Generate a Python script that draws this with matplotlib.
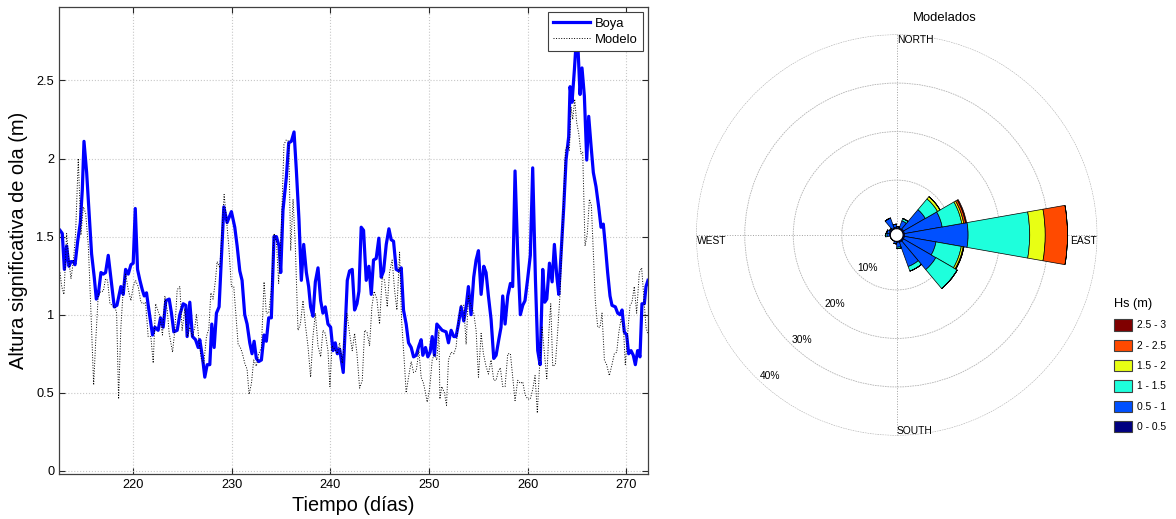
import numpy as np
import matplotlib
matplotlib.use("Agg")
import matplotlib.pyplot as plt
from matplotlib.patches import Patch

plt.rcParams['font.family'] = ['Liberation Sans', 'DejaVu Sans']

# Boya (buoy) series, day of year vs Hs (m)
BOYA_T = [212.58, 212.81, 213.02, 213.25, 213.49, 213.69, 213.93, 214.10, 214.37, 214.64,
          214.84, 215.01, 215.28, 215.51, 215.78, 216.05, 216.26, 216.46, 216.73, 216.97,
          217.20, 217.47, 217.67, 217.88, 218.08, 218.35, 218.55, 218.75, 218.99, 219.23,
          219.50, 219.77, 220.00, 220.21, 220.44, 220.68, 220.92, 221.12, 221.35, 221.59,
          221.96, 222.20, 222.53, 222.77, 223.04, 223.31, 223.65, 223.88, 224.12, 224.46,
          224.73, 225.07, 225.34, 225.47, 225.74, 226.01, 226.32, 226.59, 226.75, 227.02,
          227.26, 227.50, 227.77, 227.97, 228.21, 228.44, 228.71, 228.95, 229.19, 229.52,
          229.96, 230.30, 230.54, 230.81, 231.04, 231.31, 231.55, 231.82,
          232.05, 232.26, 232.49, 232.73, 233.00, 233.27, 233.50, 233.74, 234.01, 234.28,
          234.52, 234.79, 234.96, 235.19, 235.53, 235.77, 236.04, 236.31, 236.54, 236.81,
          237.05, 237.29, 237.56, 237.79, 237.99, 238.23, 238.47, 238.74, 239.01, 239.24,
          239.48, 239.75, 240.02, 240.26, 240.49, 240.70, 240.93, 241.30, 241.71,
          241.94, 242.21, 242.45, 242.69, 242.89, 243.12, 243.36, 243.63, 243.90, 244.14,
          244.37, 244.64, 244.91, 245.15, 245.39, 245.66, 245.93, 246.16, 246.40, 246.67,
          246.94, 247.18, 247.41, 247.68, 247.92, 248.19, 248.43, 248.70, 248.97, 249.20,
          249.37, 249.64, 249.88, 250.11, 250.32, 250.55, 250.79, 251.06, 251.33,
          251.73, 251.97, 252.24, 252.51, 252.74, 252.98, 253.25, 253.52, 253.76, 253.99,
          254.26, 254.53, 254.77, 255.01, 255.28, 255.55, 255.78, 256.02, 256.29, 256.56,
          256.80, 257.07, 257.30, 257.47, 257.71, 257.98, 258.25, 258.48, 258.72, 258.99,
          259.26, 259.50, 259.73, 260.00, 260.27, 260.51,
          260.79, 261.02, 261.26, 261.53, 261.73, 261.94, 262.21, 262.48, 262.71, 262.95,
          263.15, 263.39, 263.66, 263.89, 264.16, 264.30, 264.50, 264.74, 264.91, 265.11,
          265.31, 265.51, 265.75, 265.99, 266.19, 266.43, 266.66, 266.93, 267.20, 267.44,
          267.67, 267.88, 268.11, 268.35, 268.55, 268.89, 269.13, 269.36, 269.57, 269.80,
          270.04, 270.24, 270.48, 270.71, 270.92, 271.15, 271.39, 271.59, 271.83, 272.00,
          272.20]
BOYA_HS = [1.54, 1.52, 1.29, 1.44, 1.31, 1.34, 1.34, 1.32, 1.47, 1.59,
           1.80, 2.11, 1.91, 1.67, 1.39, 1.24, 1.10, 1.13, 1.27, 1.26,
           1.27, 1.38, 1.27, 1.16, 1.05, 1.06, 1.12, 1.18, 1.13, 1.29,
           1.26, 1.32, 1.33, 1.68, 1.29, 1.22, 1.16, 1.12, 1.14, 1.03,
           0.87, 0.92, 0.90, 0.98, 0.92, 1.09, 1.10, 1.01, 0.89, 0.90,
           1.00, 1.07, 1.06, 0.86, 1.08, 0.86, 0.84, 0.79, 0.84, 0.73,
           0.60, 0.68, 0.68, 0.94, 0.79, 1.01, 1.05, 1.37, 1.69, 1.59,
           1.66, 1.56, 1.44, 1.28, 1.22, 1.00, 0.94, 0.82,
           0.75, 0.83, 0.72, 0.70, 0.71, 0.87, 0.83, 0.98, 0.98, 1.50,
           1.50, 1.44, 1.27, 1.67, 1.88, 2.10, 2.11, 2.17, 1.93, 1.61,
           1.22, 1.45, 1.27, 1.18, 1.05, 0.99, 1.21, 1.30, 1.09, 1.01,
           1.05, 0.94, 0.92, 0.77, 0.82, 0.75, 0.78, 0.63, 1.22,
           1.28, 1.29, 1.03, 1.07, 1.15, 1.56, 1.54, 1.22, 1.31, 1.13,
           1.35, 1.36, 1.49, 1.24, 1.28, 1.45, 1.55, 1.48, 1.47, 1.29,
           1.28, 1.30, 1.03, 0.94, 0.82, 0.79, 0.73, 0.74, 0.80, 0.84,
           0.74, 0.79, 0.73, 0.76, 0.86, 0.74, 0.94, 0.92, 0.90,
           0.89, 0.82, 0.90, 0.86, 0.86, 0.94, 1.05, 0.96, 1.05, 1.18,
           1.00, 1.24, 1.35, 1.41, 1.13, 1.31, 1.27, 1.12, 0.97, 0.72,
           0.74, 0.84, 0.92, 1.12, 0.94, 1.12, 1.20, 1.18, 1.92, 1.39,
           1.00, 1.06, 1.09, 1.23, 1.38, 1.94,
           1.22, 0.77, 0.68, 1.29, 1.08, 1.10, 1.33, 1.21, 1.45, 1.25,
           1.13, 1.39, 1.69, 1.99, 2.14, 2.46, 2.36, 2.57, 2.74, 2.70,
           2.41, 2.58, 2.40, 1.99, 2.27, 2.08, 1.91, 1.82, 1.69, 1.56,
           1.58, 1.44, 1.27, 1.12, 1.06, 1.05, 1.01, 1.00, 1.03, 0.89,
           0.87, 0.75, 0.77, 0.74, 0.68, 0.77, 0.73, 1.07, 1.07, 1.18,
           1.22]

# Modelo series
MODELO_T = [212.58, 212.75, 212.98, 213.25, 213.49, 213.69, 213.93, 214.16, 214.43, 214.70,
            214.94, 215.18, 215.45, 215.72, 215.99, 216.19, 216.46, 216.73, 216.97, 217.20,
            217.40, 217.64, 217.88, 218.15, 218.32, 218.52, 218.75, 218.99, 219.23, 219.50,
            219.77, 220.00, 220.24, 220.51, 220.78, 221.02, 221.25, 221.52, 221.79, 222.03,
            222.27,
            222.43, 222.70, 222.97, 223.21, 223.45, 223.65, 223.99, 224.22, 224.46, 224.73,
            224.96, 225.24, 225.51, 225.74, 226.01, 226.25, 226.42, 226.69, 226.92, 227.16,
            227.43, 227.67, 227.87, 228.10, 228.34, 228.51, 228.78, 228.95, 229.22, 229.46,
            229.69, 229.96, 230.20, 230.40, 230.64, 230.87, 231.08, 231.31, 231.55, 231.75,
            231.99, 232.22,
            232.49, 232.73, 233.00, 233.27, 233.50, 233.74, 234.01, 234.28, 234.52, 234.75,
            235.02, 235.29, 235.53, 235.77, 235.97, 236.21, 236.44, 236.71, 236.95, 237.22,
            237.45, 237.72, 237.99, 238.23, 238.47, 238.74, 239.01, 239.24, 239.48, 239.75,
            239.95, 240.16, 240.43, 240.70, 240.93,
            241.20, 241.44, 241.67, 241.94, 242.21, 242.45, 242.69, 242.96, 243.23, 243.46,
            243.70, 243.97, 244.20, 244.44, 244.71, 244.98, 245.25, 245.49, 245.76, 245.99,
            246.26, 246.50, 246.74, 247.01, 247.21, 247.48, 247.68, 247.92, 248.19, 248.43,
            248.70, 248.97, 249.20, 249.44, 249.64, 249.81, 250.05, 250.32, 250.55, 250.79,
            251.00,
            251.10, 251.29, 251.56, 251.77, 251.97, 252.24, 252.51, 252.74, 252.98, 253.25,
            253.52, 253.76, 253.99, 254.26, 254.53, 254.77, 255.01, 255.28, 255.51, 255.78,
            256.02, 256.29, 256.56, 256.80, 257.03, 257.23, 257.47, 257.71, 257.98, 258.25,
            258.48, 258.72, 258.99, 259.26, 259.50, 259.73, 260.00, 260.27, 260.51, 260.75,
            260.98,
            261.19, 261.46, 261.70, 261.94, 262.14, 262.34, 262.54, 262.81, 263.05, 263.29,
            263.56, 263.83, 264.06, 264.23, 264.40, 264.57, 264.77, 264.97, 265.18, 265.41,
            265.58, 265.82, 266.05, 266.26, 266.46, 266.66, 266.86, 267.10, 267.34, 267.54,
            267.78, 268.01, 268.28, 268.55, 268.79, 269.03, 269.23, 269.46, 269.70, 269.90,
            270.14, 270.38, 270.58, 270.81, 271.05, 271.32, 271.56, 271.79, 272.00, 272.17]
MODELO_HS = [1.27, 1.18, 1.13, 1.52, 1.34, 1.23, 1.34, 1.52, 2.00, 1.51,
             1.69, 1.65, 1.44, 1.01, 0.55, 0.82, 1.13, 1.15, 1.15, 1.23,
             1.22, 1.07, 1.06, 1.05, 1.01, 0.46, 0.92, 1.16, 1.26, 1.16,
             1.09, 1.18, 1.22, 1.18, 1.08, 1.07, 1.08, 0.86, 0.86, 0.69,
             1.07,
             1.04, 0.99, 0.87, 1.12, 1.03, 0.88, 0.76, 0.90, 1.16, 1.18,
             0.90, 1.04, 0.86, 0.92, 0.86, 0.92, 1.00, 0.82, 0.71, 0.69,
             0.86, 0.91, 1.14, 1.10, 1.22, 1.34, 1.30, 1.47, 1.77, 1.61,
             1.44, 1.18, 1.18, 1.01, 0.81, 0.79, 0.75, 0.69, 0.65, 0.49,
             0.56, 0.71,
             0.67, 0.75, 0.79, 1.21, 1.01, 1.01, 1.16, 1.52, 1.47, 1.20,
             1.56, 2.09, 2.12, 2.11, 1.41, 1.74, 1.44, 0.90, 0.94, 1.09,
             0.94, 0.80, 0.60, 0.86, 1.01, 0.80, 0.73, 0.90, 0.88, 0.77,
             0.54, 0.80, 0.78, 0.75, 0.82,
             0.69, 0.86, 1.01, 0.88, 0.77, 0.88, 0.75, 0.53, 0.58, 0.90,
             0.89, 0.80, 1.05, 1.15, 1.10, 0.94, 1.24, 1.22, 1.05, 1.27,
             1.35, 1.16, 1.03, 1.40, 0.97, 0.71, 0.50, 0.60, 0.70, 0.63,
             0.64, 0.77, 0.60, 0.56, 0.50, 0.44, 0.52, 0.71, 0.75, 0.71,
             0.90,
             0.46, 0.54, 0.50, 0.42, 0.71, 0.76, 0.75, 0.79, 0.96, 1.06,
             1.06, 0.81, 1.12, 1.06, 1.01, 0.90, 0.60, 0.88, 0.75, 0.67,
             0.62, 0.71, 0.58, 0.58, 0.64, 0.66, 0.54, 0.54, 0.75, 0.75,
             0.60, 0.45, 0.58, 0.56, 0.57, 0.49, 0.46, 0.46, 0.52, 0.61,
             0.37,
             0.65, 0.92, 0.75, 0.59, 0.88, 1.07, 0.67, 0.68, 0.90, 1.14,
             1.59, 2.06, 2.08, 2.05, 2.33, 2.25, 2.38, 2.23, 2.16, 2.03,
             2.04, 1.44, 1.52, 1.74, 1.70, 1.40, 1.09, 0.92, 0.92, 1.01,
             0.71, 0.68, 0.61, 0.68, 0.75, 0.76, 0.88, 0.97, 0.93, 0.68,
             0.88, 1.06, 1.08, 1.18, 1.01, 1.27, 1.30, 1.10, 0.92, 0.88]

# Wave rose: sector centres (deg from North, clockwise) and % per Hs class
SECTORS = [10, 30, 50, 70, 90, 110, 130, 150, 170, 190, 210, 230, 250, 270, 290, 310, 330, 350]
HS_CLASSES = ['0 - 0.5', '0.5 - 1', '1 - 1.5', '1.5 - 2', '2 - 2.5', '2.5 - 3']
PCT_0_05 = [0.1, 0.2, 0.3, 0.3, 0.3, 0.3, 0.3, 0.3, 0.2, 0.1, 0, 0, 0, 0.2, 0.2, 0.1, 0.2, 0.3]
PCT_05_1 = [0.3, 1.6, 5.2, 7.9, 13.1, 6.6, 7.7, 5.3, 1.0, 0.4, 0, 0, 0, 0.5, 0.6, 0.3, 2.2, 0.6]
PCT_1_15 = [0, 0.5, 2.9, 4.1, 12.7, 5.3, 5.1, 1.0, 0.3, 0, 0, 0, 0, 0.3, 0, 0, 0, 0]
PCT_15_2 = [0, 0, 0.6, 0.4, 3.2, 0.4, 0, 0, 0, 0, 0, 0, 0, 0, 0, 0, 0, 0]
PCT_2_25 = [0, 0, 0, 0.4, 4.6, 0.15, 0, 0, 0, 0, 0, 0, 0, 0, 0, 0, 0, 0]
PCT_25_3 = [0, 0, 0, 0.2, 0, 0, 0, 0, 0, 0, 0, 0, 0, 0, 0, 0, 0, 0]
RINGS = [10, 20, 30, 40]
CLASS_COLORS = ['#000080', '#0050ff', '#1effdc', '#e8ff14', '#ff4a00', '#800000']

fig = plt.figure(figsize=(11.76, 5.19), dpi=100)

# ---- time series ----
ax = fig.add_axes([0.0502, 0.0867, 0.5008, 0.8998])
ax.plot(BOYA_T, BOYA_HS, color=(0, 0, 1), lw=2.3, label='Boya')
ax.plot(MODELO_T, MODELO_HS, color='k', lw=0.7, ls=':', label='Modelo')
ax.set_xlim(212.48, 272.2)
ax.set_ylim(-0.02, 2.97)
ax.set_xticks([220, 230, 240, 250, 260, 270])
ax.set_yticks([0, 0.5, 1, 1.5, 2, 2.5])
ax.yaxis.set_major_formatter(matplotlib.ticker.FormatStrFormatter('%g'))
ax.grid(True, color='#c8c8c8', ls=':', lw=0.8)
ax.tick_params(direction='in', length=4, top=True, right=True, labelsize=9.2,
               colors='#262626', labelcolor='k')
for s in ax.spines.values():
    s.set_color('#404040')
    s.set_linewidth(0.9)
ax.set_xlabel('Tiempo (días)', fontsize=14.3, labelpad=4)
ax.set_ylabel('Altura significativa de ola (m)', fontsize=14.4, labelpad=6)
leg = ax.legend(loc='upper right', fontsize=9.4, handlelength=2.8, handletextpad=0.4,
                labelspacing=0.3, borderpad=0.4, borderaxespad=0.4, fancybox=False,
                framealpha=1)
leg.get_frame().set_edgecolor('#404040')
leg.get_frame().set_linewidth(0.8)

# ---- wave rose ----
rax = fig.add_axes([696 / 1176, (519 - 435.7) / 519, 401.4 / 1176, 401.4 / 519],
                   projection='polar')
rax.set_theta_zero_location('N')
rax.set_theta_direction(-1)
rax.set_rorigin(-1.32)
rax.set_ylim(0, 40.05)
theta = np.deg2rad(SECTORS)
width = np.deg2rad(20)
bottom = np.zeros(len(SECTORS))
for pct, c in zip([PCT_0_05, PCT_05_1, PCT_1_15, PCT_15_2, PCT_2_25, PCT_25_3], CLASS_COLORS):
    pct = np.array(pct)
    rax.bar(theta, pct, width=width, bottom=bottom, color=c, edgecolor='k', linewidth=0.5,
            zorder=3)
    bottom = bottom + pct
rax.set_thetagrids([0, 90, 180, 270], labels=['', '', '', ''])
rax.set_rgrids(RINGS, labels=['', '', '', ''])
rax.grid(True, color='#b4b4b4', ls=(0, (2, 1)), lw=0.6)
rax.xaxis.grid(True, color='#a0a0a0', ls=':', lw=0.7)
rax.spines['polar'].set_visible(False)
rax.set_facecolor('none')
for r in RINGS:
    rax.text(np.deg2rad(222), r - 2.2, '%d%%' % r, fontsize=7.4, ha='center', va='center')
rax.text(0.5, 0.986, 'NORTH', transform=rax.transAxes, fontsize=7.4, ha='left', va='center')
rax.text(0.5, 0.012, 'SOUTH', transform=rax.transAxes, fontsize=7.4, ha='left', va='center')
rax.text(0.998, 0.485, 'EAST', transform=rax.transAxes, fontsize=7.4, ha='right', va='center')
rax.text(0.002, 0.485, 'WEST', transform=rax.transAxes, fontsize=7.4, ha='left', va='center')
fig.text(944.7 / 1176, 1 - 17.7 / 519, 'Modelados', fontsize=9.4, ha='center', va='center')

handles = [Patch(facecolor=c, edgecolor='#404040', linewidth=0.8, label=l)
           for c, l in zip(CLASS_COLORS, HS_CLASSES)][::-1]
rleg = fig.legend(handles=handles, title='Hs (m)', loc='upper left',
                  bbox_to_anchor=(1107 / 1176, 1 - 291 / 519), fontsize=7.4,
                  title_fontsize=9.2, handlelength=1.75, handleheight=1.3,
                  handletextpad=0.5, labelspacing=0.89, borderpad=0.2, frameon=False,
                  alignment='left')

fig.savefig('out.png', dpi=100)
